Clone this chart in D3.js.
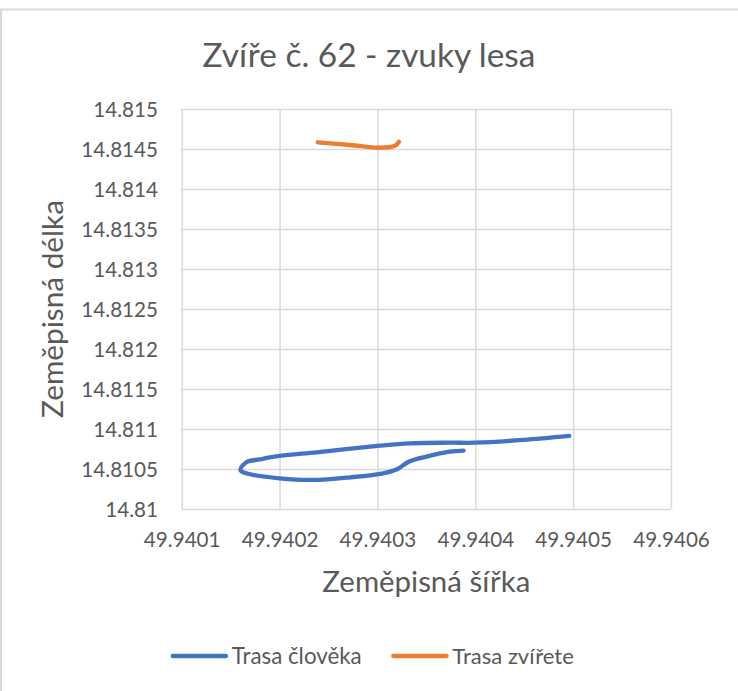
<!DOCTYPE html>
<html>
<head>
<meta charset="utf-8">
<script src="https://cdn.jsdelivr.net/npm/d3@7"></script>
<style>
  body { margin: 0; background: #fff; }
  text { font-family: Lato, "Open Sans", sans-serif; fill: #595959; }
</style>
</head>
<body>
<div id="chart"></div>
<script>
// zeměpisná šířka / délka, human track
var humanLat = [49.940496, 49.940449, 49.9404, 49.940374, 49.940333, 49.9403, 49.940238, 49.9402,
                49.94018, 49.940166, 49.94016, 49.940166, 49.9402, 49.940234, 49.940272, 49.940306,
                49.94032, 49.940332, 49.94035, 49.940374, 49.940388];
var humanLon = [14.810913, 14.810863, 14.810829, 14.810829, 14.810821, 14.810788, 14.810709, 14.810663,
                14.810621, 14.810585, 14.810488, 14.810446, 14.810384, 14.810363, 14.810396, 14.810446,
                14.810496, 14.810591, 14.810654, 14.810716, 14.810729];

// animal track
var animalLat = [49.940239, 49.940272, 49.940303, 49.940318, 49.940322];
var animalLon = [14.814584, 14.81455, 14.814516, 14.814541, 14.814591];

var xTicks = [49.9401, 49.9402, 49.9403, 49.9404, 49.9405, 49.9406];
var yTicks = [14.81, 14.8105, 14.811, 14.8115, 14.812, 14.8125, 14.813, 14.8135, 14.814, 14.8145, 14.815];

var seriesNames = ["Trasa člověka", "Trasa zvířete"];
var seriesColors = ["#4472C4", "#ED7D31"];

var chartTitle = "Zvíře č. 62 - zvuky lesa";
var xTitle = "Zeměpisná šířka";
var yTitle = "Zeměpisná délka";

function fitWidth(sel, target) {
    var w = sel.node().getComputedTextLength();
    var fs = parseFloat(sel.attr("font-size"));
    sel.attr("font-size", fs * target / w);
    return fs * target / w;
}

function drawChart() {
    var W = 738, H = 691;
    var plot = {left: 181.7, right: 671, top: 109, bottom: 509};

    var svg = d3.select("#chart").append("svg")
        .attr("width", W)
        .attr("height", H);

    // chart border (top and left edges visible)
    svg.append("path")
        .attr("d", "M1," + H + "V9.5H" + W)
        .attr("fill", "none")
        .attr("stroke", "#d9d9d9")
        .attr("stroke-width", 2);

    var x = d3.scaleLinear()
        .domain([xTicks[0], xTicks[xTicks.length - 1]])
        .range([plot.left, plot.right]);

    var y = d3.scaleLinear()
        .domain([yTicks[0], yTicks[yTicks.length - 1]])
        .range([plot.bottom, plot.top]);

    var fmt = d => String(+d.toFixed(4));

    // y gridlines + labels
    var yAxis = svg.append("g")
        .attr("transform", "translate(" + plot.left + ",0)")
        .call(d3.axisLeft(y).tickValues(yTicks).tickFormat(fmt)
            .tickSize(-(plot.right - plot.left)).tickPadding(23.7))
        .call(g => g.select(".domain").remove());
    yAxis.selectAll("line").attr("stroke", "#d9d9d9").attr("stroke-width", 1.5);
    yAxis.selectAll("text").attr("font-size", 20).attr("font-family", null).attr("dy", "0.36em");

    // x gridlines + labels
    var xAxis = svg.append("g")
        .attr("transform", "translate(0," + plot.bottom + ")")
        .call(d3.axisBottom(x).tickValues(xTicks).tickFormat(fmt)
            .tickSize(-(plot.bottom - plot.top)).tickPadding(0))
        .call(g => g.select(".domain").remove());
    xAxis.selectAll("line").attr("stroke", "#d9d9d9").attr("stroke-width", 1.5);
    xAxis.selectAll("text").attr("font-size", 20).attr("font-family", null)
        .attr("y", 38).attr("dy", 0);

    // make tick fonts match the reference widths
    var sample = yAxis.selectAll("text").filter(d => d === 14.8145);
    var tickSize = fitWidth(sample, 76.7);
    yAxis.selectAll("text").attr("font-size", tickSize);
    xAxis.selectAll("text").attr("font-size", tickSize);
    svg.selectAll(".tick text").attr("fill", "#595959");

    var line = d3.line()
        .x(d => x(d[0]))
        .y(d => y(d[1]))
        .curve(d3.curveCatmullRom.alpha(0.5));

    var series = [
        d3.zip(humanLat, humanLon),
        d3.zip(animalLat, animalLon)
    ];

    svg.append("g").selectAll("path")
        .data(series)
        .enter().append("path")
        .attr("d", line)
        .attr("fill", "none")
        .attr("stroke", (d, i) => seriesColors[i])
        .attr("stroke-width", 4.3)
        .attr("stroke-linecap", "round")
        .attr("stroke-linejoin", "round");

    // title
    var t = svg.append("text")
        .attr("x", 369).attr("y", 67)
        .attr("text-anchor", "middle")
        .attr("font-size", 31)
        .text(chartTitle);
    fitWidth(t, 333);

    // axis titles
    var xt = svg.append("text")
        .attr("x", (plot.left + plot.right) / 2).attr("y", 592)
        .attr("text-anchor", "middle")
        .attr("font-size", 23)
        .text(xTitle);
    fitWidth(xt, 208);

    var yt = svg.append("text")
        .attr("transform", "translate(63," + (plot.top + plot.bottom) / 2 + ") rotate(-90)")
        .attr("text-anchor", "middle")
        .attr("font-size", 23)
        .text(yTitle);
    fitWidth(yt, 218);

    // legend
    var legendX = [172.7, 393.3];
    var legendW = [130, 121.6];
    var legend = svg.append("g").selectAll("g")
        .data(seriesNames)
        .enter().append("g")
        .attr("transform", (d, i) => "translate(" + legendX[i] + ",656)");

    legend.append("line")
        .attr("x1", 0).attr("x2", 53.3)
        .attr("stroke", (d, i) => seriesColors[i])
        .attr("stroke-width", 4.3)
        .attr("stroke-linecap", "round");

    legend.append("text")
        .attr("x", 59).attr("y", 7.5)
        .attr("font-size", 20)
        .text(d => d)
        .each(function (d, i) { fitWidth(d3.select(this), legendW[i]); });
}

drawChart();
</script>
</body>
</html>
